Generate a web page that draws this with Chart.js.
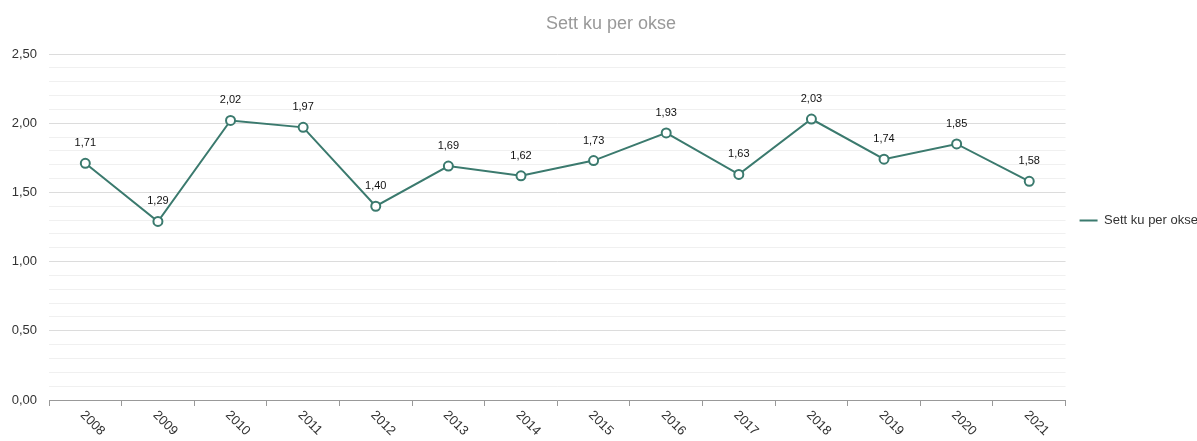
<!DOCTYPE html>
<html>
<head>
<meta charset="utf-8">
<script src="https://cdn.jsdelivr.net/npm/chart.js@4/dist/chart.umd.min.js"></script>
<style>
  html, body { margin: 0; padding: 0; background: #fff; overflow: hidden; }
  #wrap { width: 1222px; height: 441px; position: relative; }
</style>
</head>
<body>
<div id="wrap"><canvas id="chart"></canvas></div>
<script>
const years = ['2008','2009','2010','2011','2012','2013','2014','2015','2016','2017','2018','2019','2020','2021'];
const kuPerOkse = [1.71, 1.29, 2.02, 1.97, 1.40, 1.69, 1.62, 1.73, 1.93, 1.63, 2.03, 1.74, 1.85, 1.58];
const seriesName = 'Sett ku per okse';

const fmt = (v) => v.toFixed(2).replace('.', ',');
const FONT = '"Liberation Sans", Arial, sans-serif';

// value labels above the points
const valueLabels = {
    id: 'valueLabels',
    afterDatasetsDraw(chart) {
        const ctx = chart.ctx;
        const meta = chart.getDatasetMeta(0);
        ctx.save();
        ctx.font = '11px ' + FONT;
        ctx.fillStyle = '#111';
        ctx.textAlign = 'center';
        ctx.textBaseline = 'middle';
        meta.data.forEach((pt, i) => {
            ctx.fillText(fmt(kuPerOkse[i]), pt.x, pt.y - 20);
        });
        ctx.restore();
    }
};

// x labels slanting down to the right + title centred on the full width
const extraText = {
    id: 'extraText',
    afterDraw(chart) {
        const ctx = chart.ctx;
        const xs = chart.scales.x;
        ctx.save();
        ctx.font = '13px ' + FONT;
        ctx.fillStyle = '#333';
        ctx.textAlign = 'left';
        ctx.textBaseline = 'middle';
        years.forEach((y, i) => {
            const x = xs.getPixelForTick(i);
            ctx.save();
            ctx.translate(x - 3, xs.top + 13);
            ctx.rotate(Math.PI / 4);
            ctx.fillText(y, 0, 0);
            ctx.restore();
        });
        ctx.font = '18px ' + FONT;
        ctx.fillStyle = '#999';
        ctx.textAlign = 'center';
        ctx.fillText(seriesName, chart.width / 2, 24);
        ctx.restore();
    }
};

new Chart(document.getElementById('chart'), {
    type: 'line',
    data: {
        labels: years,
        datasets: [{
            label: seriesName,
            data: kuPerOkse,
            borderColor: '#3b7a6e',
            backgroundColor: '#3b7a6e',
            borderWidth: 2,
            pointRadius: 4.5,
            pointHoverRadius: 4.5,
            pointBorderWidth: 2,
            pointBackgroundColor: '#fff',
            pointBorderColor: '#3b7a6e',
            tension: 0
        }]
    },
    options: {
        responsive: true,
        maintainAspectRatio: false,
        animation: false,
        layout: { padding: { left: 0, right: 14, top: 0, bottom: 0 } },
        scales: {
            x: {
                offset: true,
                grid: {
                    offset: true,
                    drawOnChartArea: false,
                    drawTicks: true,
                    tickLength: 6,
                    color: '#999'
                },
                border: { color: '#999' },
                ticks: { color: 'rgba(0,0,0,0)', maxRotation: 45, minRotation: 45 },
                afterFit(scale) { scale.height = 41; }
            },
            y: {
                min: 0,
                max: 2.5,
                border: { display: false },
                grid: {
                    drawTicks: false,
                    color: (c) => {
                        const v = Math.round(c.tick.value * 10);
                        return v % 5 === 0 ? '#dcdcdc' : '#f0f0f0';
                    }
                },
                ticks: {
                    stepSize: 0.1,
                    autoSkip: false,
                    padding: 12,
                    color: '#333',
                    font: { size: 13, family: FONT },
                    callback: (v) => {
                        const r = Math.round(v * 10);
                        return r % 5 === 0 ? fmt(r / 10) : '';
                    }
                },
                afterFit(scale) { scale.width = 49; }
            }
        },
        plugins: {
            title: {
                display: true,
                text: seriesName,
                color: 'rgba(0,0,0,0)',
                font: { size: 18, weight: 'normal', family: FONT },
                padding: { top: 13, bottom: 19.4 }
            },
            legend: {
                position: 'right',
                labels: {
                    usePointStyle: true,
                    pointStyle: 'line',
                    pointStyleWidth: 18,
                    padding: 14,
                    color: '#333',
                    font: { size: 13, family: FONT }
                }
            },
            tooltip: { enabled: false }
        }
    },
    plugins: [valueLabels, extraText]
});
</script>
</body>
</html>
